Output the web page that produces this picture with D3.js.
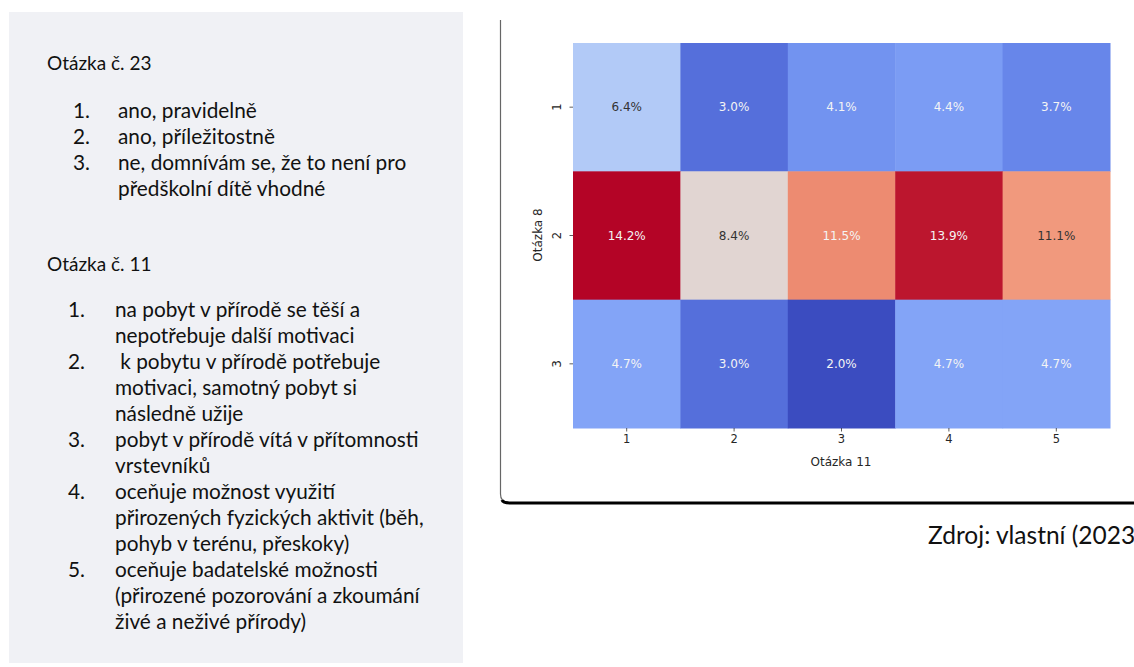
<!DOCTYPE html>
<html><head><meta charset="utf-8">
<script src="https://cdn.jsdelivr.net/npm/d3@7"></script>
<style>body{margin:0;background:#fff}svg{display:block}</style>
</head><body>
<svg id="c" width="1134" height="667"></svg>
<script>
const xCategories = ["1","2","3","4","5"];
const yCategories = ["1","2","3"];
const row1 = [6.4, 3.0, 4.1, 4.4, 3.7];
const row2 = [14.2, 8.4, 11.5, 13.9, 11.1];
const row3 = [4.7, 3.0, 2.0, 4.7, 4.7];
const xLabel = "Otázka 11";
const yLabel = "Otázka 8";
const q23Title = "Otázka č. 23";
const q23Items = [["1.", ["ano, pravidelně"]], ["2.", ["ano, příležitostně"]], ["3.", ["ne, domnívám se, že to není pro", "předškolní dítě vhodné"]]];
const q11Title = "Otázka č. 11";
const q11Items = [
  ["1.", ["na pobyt v přírodě se těší a", "nepotřebuje další motivaci"]],
  ["2.", [" k pobytu v přírodě potřebuje", "motivaci, samotný pobyt si", "následně užije"]],
  ["3.", ["pobyt v přírodě vítá v přítomnosti", "vrstevníků"]],
  ["4.", ["oceňuje možnost využití", "přirozených fyzických aktivit (běh,", "pohyb v terénu, přeskoky)"]],
  ["5.", ["oceňuje badatelské možnosti", "(přirozené pozorování a zkoumání", "živé a neživé přírody)"]]
];
const sourceText = "Zdroj: vlastní (2023";

const rows = [row1, row2, row3];
const cells = [];
rows.forEach((r, i) => r.forEach((v, j) => cells.push({y: yCategories[i], x: xCategories[j], v})));

const svg = d3.select("#c");

// left panel
svg.append("rect").attr("x", 9).attr("y", 12).attr("width", 454).attr("height", 651).attr("fill", "#f0f1f5");
const leftFont = "Lato, 'Noto Sans', sans-serif";
const lt = svg.append("g").attr("font-family", leftFont).attr("font-size", 20.8).attr("fill", "#111");
lt.append("text").attr("x", 47).attr("y", 70).attr("font-size", 19).text(q23Title);
let yy = 118;
q23Items.forEach(([n, lines]) => {
  lt.append("text").attr("x", 73).attr("y", yy).text(n);
  lines.forEach(l => { lt.append("text").attr("x", 118).attr("y", yy).attr("xml:space","preserve").text(l); yy += 26; });
});
lt.append("text").attr("x", 47).attr("y", 271).attr("font-size", 19).text(q11Title);
yy = 317;
q11Items.forEach(([n, lines]) => {
  lt.append("text").attr("x", 68).attr("y", yy).text(n);
  lines.forEach(l => { lt.append("text").attr("x", 115).attr("y", yy).attr("xml:space","preserve").text(l); yy += 26; });
});

// card frame
svg.append("path").attr("d", "M500.5,20 L500.5,494 Q500.5,502 508,502").attr("fill","none").attr("stroke","#666").attr("stroke-width",1.2);
svg.append("path").attr("d", "M502,500 Q503,503 510,503 L1134,503").attr("fill","none").attr("stroke","#000").attr("stroke-width",3);

// source
svg.append("text").attr("x", 928).attr("y", 544).attr("font-family", leftFont).attr("font-size", 24.5).attr("fill","#111").text(sourceText);

// heatmap
const x = d3.scaleBand().domain(xCategories).range([573, 1110]).padding(0);
const y = d3.scaleBand().domain(yCategories).range([43, 428]).padding(0);
const vmin = d3.min(cells, d => d.v), vmax = d3.max(cells, d => d.v);
const coolwarm = d3.interpolateRgbBasis(["#3b4cc0","#6282ea","#8db0fe","#b8d0f9","#dddddd","#f5c4ad","#f49a7b","#de604d","#b40426"]);
const color = v => coolwarm((v - vmin) / (vmax - vmin));
function lum(c) {
  const r = d3.rgb(c);
  const f = u => { u /= 255; return u <= 0.03928 ? u / 12.92 : Math.pow((u + 0.055) / 1.055, 2.4); };
  return 0.2126 * f(r.r) + 0.7152 * f(r.g) + 0.0722 * f(r.b);
}
const hg = svg.append("g");
hg.selectAll("rect").data(cells).join("rect")
  .attr("x", d => x(d.x)).attr("y", d => y(d.y))
  .attr("width", x.bandwidth() + 0.5).attr("height", y.bandwidth() + 0.5)
  .attr("fill", d => color(d.v));
hg.selectAll("text").data(cells).join("text")
  .attr("x", d => x(d.x) + x.bandwidth() / 2).attr("y", d => y(d.y) + y.bandwidth() / 2)
  .attr("text-anchor", "middle").attr("dominant-baseline", "central")
  .attr("font-family", "'DejaVu Sans', sans-serif").attr("font-size", 12)
  .attr("fill", d => lum(color(d.v)) > 0.408 ? "#333333" : "#f4f4f4")
  .text(d => d.v.toFixed(1) + "%");

const axFont = "'DejaVu Sans', sans-serif";
const xAxis = svg.append("g").attr("transform", "translate(0,428)")
  .call(d3.axisBottom(x).tickSize(3.5).tickPadding(3.5));
xAxis.select(".domain").remove();
xAxis.selectAll("line").attr("stroke", "#333").attr("stroke-width", 0.8);
xAxis.selectAll("text").attr("font-family", axFont).attr("font-size", 11.5).attr("fill", "#262626");
const yAxis = svg.append("g").attr("transform", "translate(573,0)")
  .call(d3.axisLeft(y).tickSize(3.5).tickPadding(3.5));
yAxis.select(".domain").remove();
yAxis.selectAll("line").attr("stroke", "#333").attr("stroke-width", 0.8);
yAxis.selectAll("text").attr("font-family", axFont).attr("font-size", 11.5).attr("fill", "#262626")
  .attr("text-anchor", "middle").attr("dy", null).attr("dominant-baseline", "auto")
  .attr("transform", "translate(-12,0) rotate(-90)")
  .attr("x", 0).attr("y", 0);
svg.append("text").attr("x", 841).attr("y", 466).attr("text-anchor", "middle")
  .attr("font-family", axFont).attr("font-size", 12).attr("fill", "#262626").text(xLabel);
svg.append("text").attr("transform", "translate(542,235) rotate(-90)").attr("text-anchor", "middle")
  .attr("font-family", axFont).attr("font-size", 12).attr("fill", "#262626").text(yLabel);
</script>
</body></html>
